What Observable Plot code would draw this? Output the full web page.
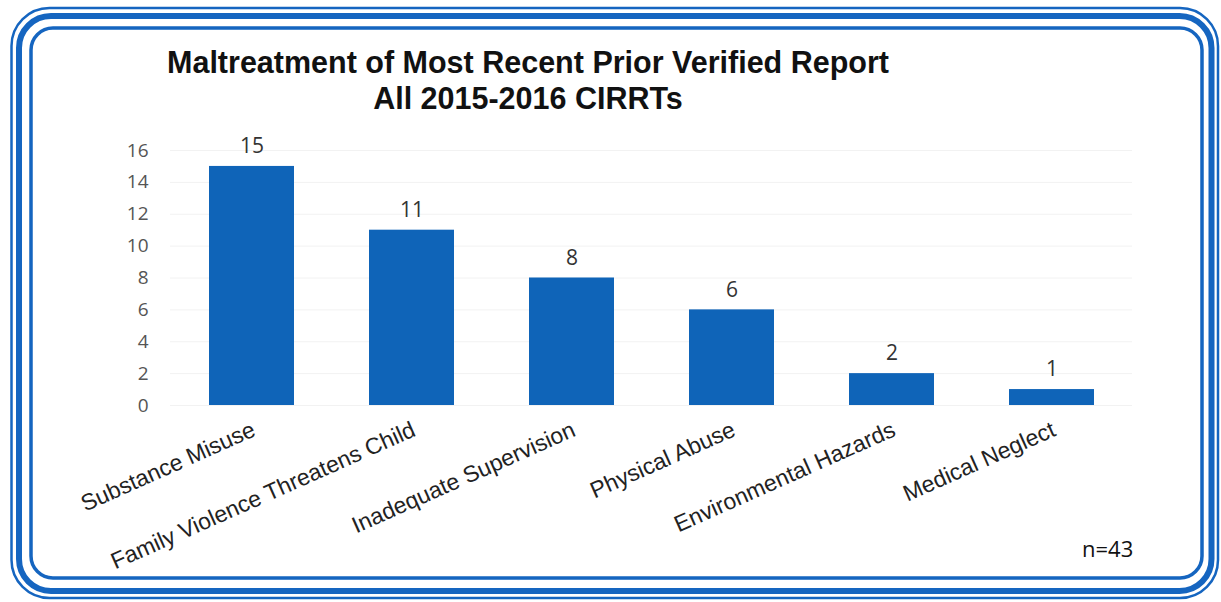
<!DOCTYPE html>
<html>
<head>
<meta charset="utf-8">
<script src="https://cdn.jsdelivr.net/npm/d3@7"></script>
<script src="https://cdn.jsdelivr.net/npm/@observablehq/plot@0.6"></script>
<style>
  html, body { margin: 0; padding: 0; background: #fff; }
  #wrap { position: relative; width: 1221px; height: 602px; overflow: hidden; }
  #chart { position: absolute; left: 0; top: 0; }
  #title { position: absolute; left: 0; width: 1056px; top: 44px; text-align: center;
    font-family: "Liberation Sans", Arial, sans-serif; font-weight: bold; font-size: 30.5px; line-height: 36px; color: #111; }
  #note { position: absolute; left: 1082px; top: 533px; font-family: "Open Sans", sans-serif; font-size: 22px; color: #111; }
  #frame { position: absolute; left: 0; top: 0; pointer-events: none; }
</style>
</head>
<body>
<div id="wrap">
  <div id="chart"></div>
  <div id="title">Maltreatment of Most Recent Prior Verified Report<br>All 2015-2016 CIRRTs</div>
  <div id="note">n=43</div>
  <svg id="frame" width="1221" height="602">
    <rect x="11.5" y="8" width="1206.5" height="590" rx="38" fill="none" stroke="#1565c0" stroke-width="2.5"/>
    <rect x="19" y="16" width="1192.5" height="575" rx="32" fill="none" stroke="#1565c0" stroke-width="6"/>
    <rect x="31" y="28" width="1171" height="550" rx="22" fill="none" stroke="#1565c0" stroke-width="3.5"/>
  </svg>
</div>
<script>
const categories = ["Substance Misuse", "Family Violence Threatens Child", "Inadequate Supervision", "Physical Abuse", "Environmental Hazards", "Medical Neglect"];
const counts = [15, 11, 8, 6, 2, 1];
const yTicks = [0, 2, 4, 6, 8, 10, 12, 14, 16];

const data = categories.map((c, i) => ({category: c, count: counts[i]}));

const chart = Plot.plot({
  width: 1221,
  height: 602,
  marginLeft: 170,
  marginRight: 89,
  marginTop: 150,
  marginBottom: 197,
  style: {background: "transparent", overflow: "visible"},
  x: {domain: categories, paddingInner: 0.47, paddingOuter: 0.235, axis: null},
  y: {domain: [0, 16], axis: null},
  marks: [
    Plot.ruleY(yTicks, {stroke: "#f2f2f2", strokeWidth: 1}),
    Plot.barY(data, {x: "category", y: "count", fill: "#0f64b8"}),
    Plot.text(data, {x: "category", y: "count", text: d => String(d.count), dy: -20,
      fontFamily: "Open Sans, sans-serif", fontSize: 21, fill: "#333"}),
    Plot.axisY(yTicks, {tickSize: 0, tickPadding: 22, tickFormat: d => String(d), label: null,
      fontFamily: "Open Sans, sans-serif", fontSize: 19, fill: "#555", textAnchor: "end"}),
    Plot.text(data, {x: "category", y: () => 0, text: "category", rotate: -24, textAnchor: "end",
      lineAnchor: "middle", dy: 23, dx: 2,
      fontFamily: "Liberation Sans, Arial, sans-serif", fontSize: 23, fill: "#222"})
  ]
});
document.getElementById("chart").appendChild(chart);
</script>
</body>
</html>
